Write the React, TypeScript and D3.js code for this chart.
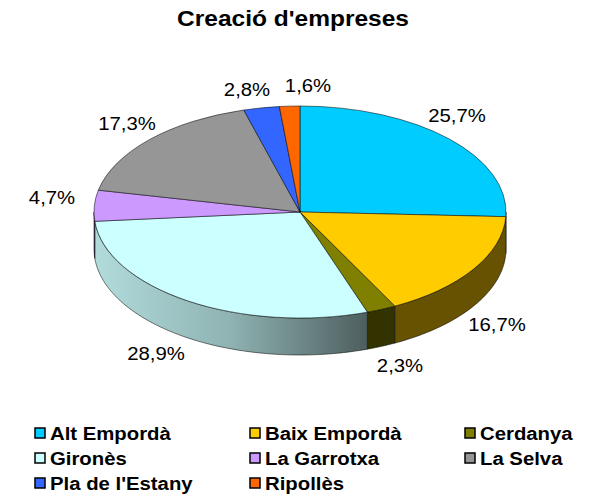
import React from "react";
import * as d3 from "d3";

const categories = ["Alt Empordà", "Baix Empordà", "Cerdanya", "Gironès", "La Garrotxa", "La Selva", "Pla de l'Estany", "Ripollès"];
const values = [25.7, 16.7, 2.3, 28.9, 4.7, 17.3, 2.8, 1.6];
const topColors = ["#00ccff", "#ffcc00", "#808000", "#ccffff", "#cc99ff", "#969696", "#3366ff", "#ff6600"];
const sideColors = ["#005266", "#665200", "#333300", "url(#gir)", "#523d66", "#3c3c3c", "#142966", "#662900"];
const labelAnchors: [number, number][] = [[457, 122], [497, 331], [400, 372], [156, 360], [52, 204], [127, 130], [247, 96], [308, 92]];
const legendCols = [35, 250, 465];
const legendRows = [433, 458, 483];

const W = 600, H = 494, cx = 300, cy = 212, rx = 206, ry = 106, depth = 37;
const fmt = (v: number) => v.toFixed(1).replace(".", ",") + "%";

const slices = d3.pie<number>().sort(null).value((d) => d)(values);
const px = (t: number) => cx + rx * Math.sin(t);
const py = (t: number) => cy - ry * Math.cos(t);
const unitArc = d3.arc<d3.PieArcDatum<number>>().innerRadius(0).outerRadius(1);

function sidePath(a0: number, a1: number) {
  const lo = Math.max(a0, Math.PI / 2), hi = Math.min(a1, (3 * Math.PI) / 2);
  if (hi <= lo) return null;
  const ts = d3.range(0, 61).map((i) => lo + ((hi - lo) * i) / 60);
  return d3.area<number>().x(px).y0(py).y1((t) => py(t) + depth)(ts);
}

export default function App() {
  const font = "'Liberation Sans', Arial, sans-serif";
  return (
    <svg width={W} height={H} style={{ position: "absolute", left: 0, top: 0, background: "#fff" }} fontFamily={font}>
      <defs>
        <linearGradient id="gir" gradientUnits="userSpaceOnUse" x1={94} x2={368} y1={0} y2={0}>
          <stop offset="0" stopColor="#b2dcdc" />
          <stop offset="0.5" stopColor="#8fb2b2" />
          <stop offset="1" stopColor="#4d5e5e" />
        </linearGradient>
      </defs>
      <text transform="translate(293,26) scale(1.09,1)" textAnchor="middle" fontSize={22.5} fontWeight="bold">Creació d'empreses</text>
      {slices.map((s, i) => {
        const d = sidePath(s.startAngle, s.endAngle);
        return d ? <path key={i} d={d} fill={sideColors[i]} stroke="#000" strokeOpacity={0.65} strokeWidth={0.8} /> : null;
      })}
      {slices.map((s, i) => (
        <path
          key={i}
          d={unitArc(s) as string}
          transform={`translate(${cx},${cy}) scale(${rx},${ry})`}
          fill={topColors[i]}
          stroke="#000"
          strokeOpacity={0.65}
          strokeWidth={0.8}
          vectorEffect="non-scaling-stroke"
        />
      ))}
      {values.map((v, i) => (
        <text key={i} transform={`translate(${labelAnchors[i][0]},${labelAnchors[i][1]}) scale(1.13,1)`} textAnchor="middle" fontSize={18}>{fmt(v)}</text>
      ))}
      {categories.map((c, i) => {
        const x = legendCols[i % 3], y = legendRows[Math.floor(i / 3)];
        return (
          <g key={c}>
            <rect x={x} y={y - 5} width={10} height={10} fill={topColors[i]} stroke="#000" strokeWidth={1.5} />
            <text transform={`translate(${x + 15},${y + 6.5}) scale(1.13,1)`} fontSize={18} fontWeight="bold">{c}</text>
          </g>
        );
      })}
    </svg>
  );
}
